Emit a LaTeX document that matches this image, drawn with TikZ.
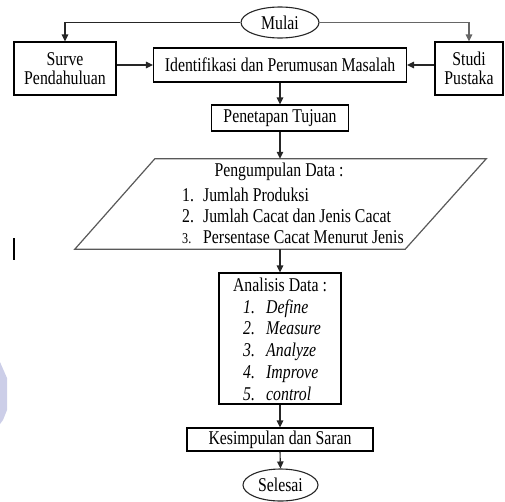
\documentclass[tikz,border=0pt]{standalone}
\usepackage{fontspec}
\setmainfont{Liberation Serif}[FakeStretch=0.81]
\usetikzlibrary{arrows.meta,shapes.geometric,calc}
\definecolor{faintlav}{RGB}{204,206,232}

\begin{document}
\begin{tikzpicture}[x=1pt,y=-1pt,
  every node/.style={font=\fontsize{19.5}{21}\selectfont, text=black},
  box/.style={draw=black, line width=1.1pt, rectangle, inner sep=0pt, align=center},
  term/.style={draw=black!85, line width=1.1pt, ellipse, inner sep=0pt},
  arr/.style={draw=black!85, line width=1.1pt, -{Triangle[length=7pt,width=6.5pt]}},
  txt/.style={inner sep=0pt, align=left},
  slant/.style={draw=black!65, line width=1.2pt, line join=miter}
]
\useasboundingbox (0,0) rectangle (505,501);

% terminals
\node[term, minimum width=78pt, minimum height=31pt] (mulai) at (280,22.5) {Mulai};
\node[term, minimum width=75pt, minimum height=32pt] (selesai) at (280.5,485) {Selesai};

% first row
\node[box, minimum width=102pt, minimum height=53pt,
      font=\fontsize{19.5}{19.5}\selectfont] (surve) at (65,68.5) {Surve\\Pendahuluan};
\node[box, minimum width=68pt, minimum height=53pt,
      font=\fontsize{19.5}{19.5}\selectfont] (studi) at (469,68.5) {Studi\\Pustaka};
\node[box, minimum width=253pt, minimum height=34pt] (ident) at (280,65)
      {Identifikasi dan Perumusan Masalah};

\node[box, minimum width=137pt, minimum height=26pt] (tujuan) at (280,118) {Penetapan Tujuan};

% data collection (parallelogram)
\node[inner sep=0pt, minimum width=250pt, minimum height=90pt] (data) at (280,204) {};
\draw[slant] (data.north west) -- ($(data.north east)+(81,0)$) -- (data.south east)
  -- ($(data.south west)+(-80,0)$) -- cycle;
\node[txt] (datatitle) at (279,172) {Pengumpulan Data :};
\node[txt, anchor=west] (datalist) at (182,215.5)
  {\makebox[21pt][l]{1.}Jumlah Produksi\\
   \makebox[21pt][l]{2.}Jumlah Cacat dan Jenis Cacat\\
   \makebox[21pt][l]{\fontsize{15}{15}\selectfont 3.}Persentase Cacat Menurut Jenis};

% analysis
\node[box, minimum width=122pt, minimum height=131pt] (analisis) at (280,338.5) {};
\node[txt] (antitle) at (280,285) {Analisis Data :};
\node[txt, anchor=west, font=\fontsize{19.5}{21.75}\selectfont\itshape] (anlist) at (243,350)
  {\makebox[23pt][l]{1.}Define\\
   \makebox[23pt][l]{2.}Measure\\
   \makebox[23pt][l]{3.}Analyze\\
   \makebox[23pt][l]{4.}Improve\\
   \makebox[23pt][l]{5.}control};

\node[box, minimum width=186pt, minimum height=23pt] (simpul) at (280,439.5) {Kesimpulan dan Saran};

% connectors
\draw[arr] (mulai.west) -| (surve.north);
\draw[arr, draw=black!60] (mulai.east) -| (studi.north);
\draw[arr] (surve.east |- ident.west) -- (ident.west);
\draw[arr] (studi.west |- ident.east) -- (ident.east);
\draw[arr] (ident.south) -- (tujuan.north);
\draw[arr] (tujuan.south) -- (data.north);
\draw[arr] (data.south) -- (analisis.north);
\draw[arr] (analisis.south) -- (simpul.north);
\draw[arr] (simpul.south) -- (selesai.north);

% small marks at the left margin
\fill[black] (12.5,238) rectangle (14.5,260);
\fill[faintlav] (0,362) -- (7,378) -- (7,410) -- (3,420) -- (0,424) -- cycle;
\end{tikzpicture}
\end{document}
